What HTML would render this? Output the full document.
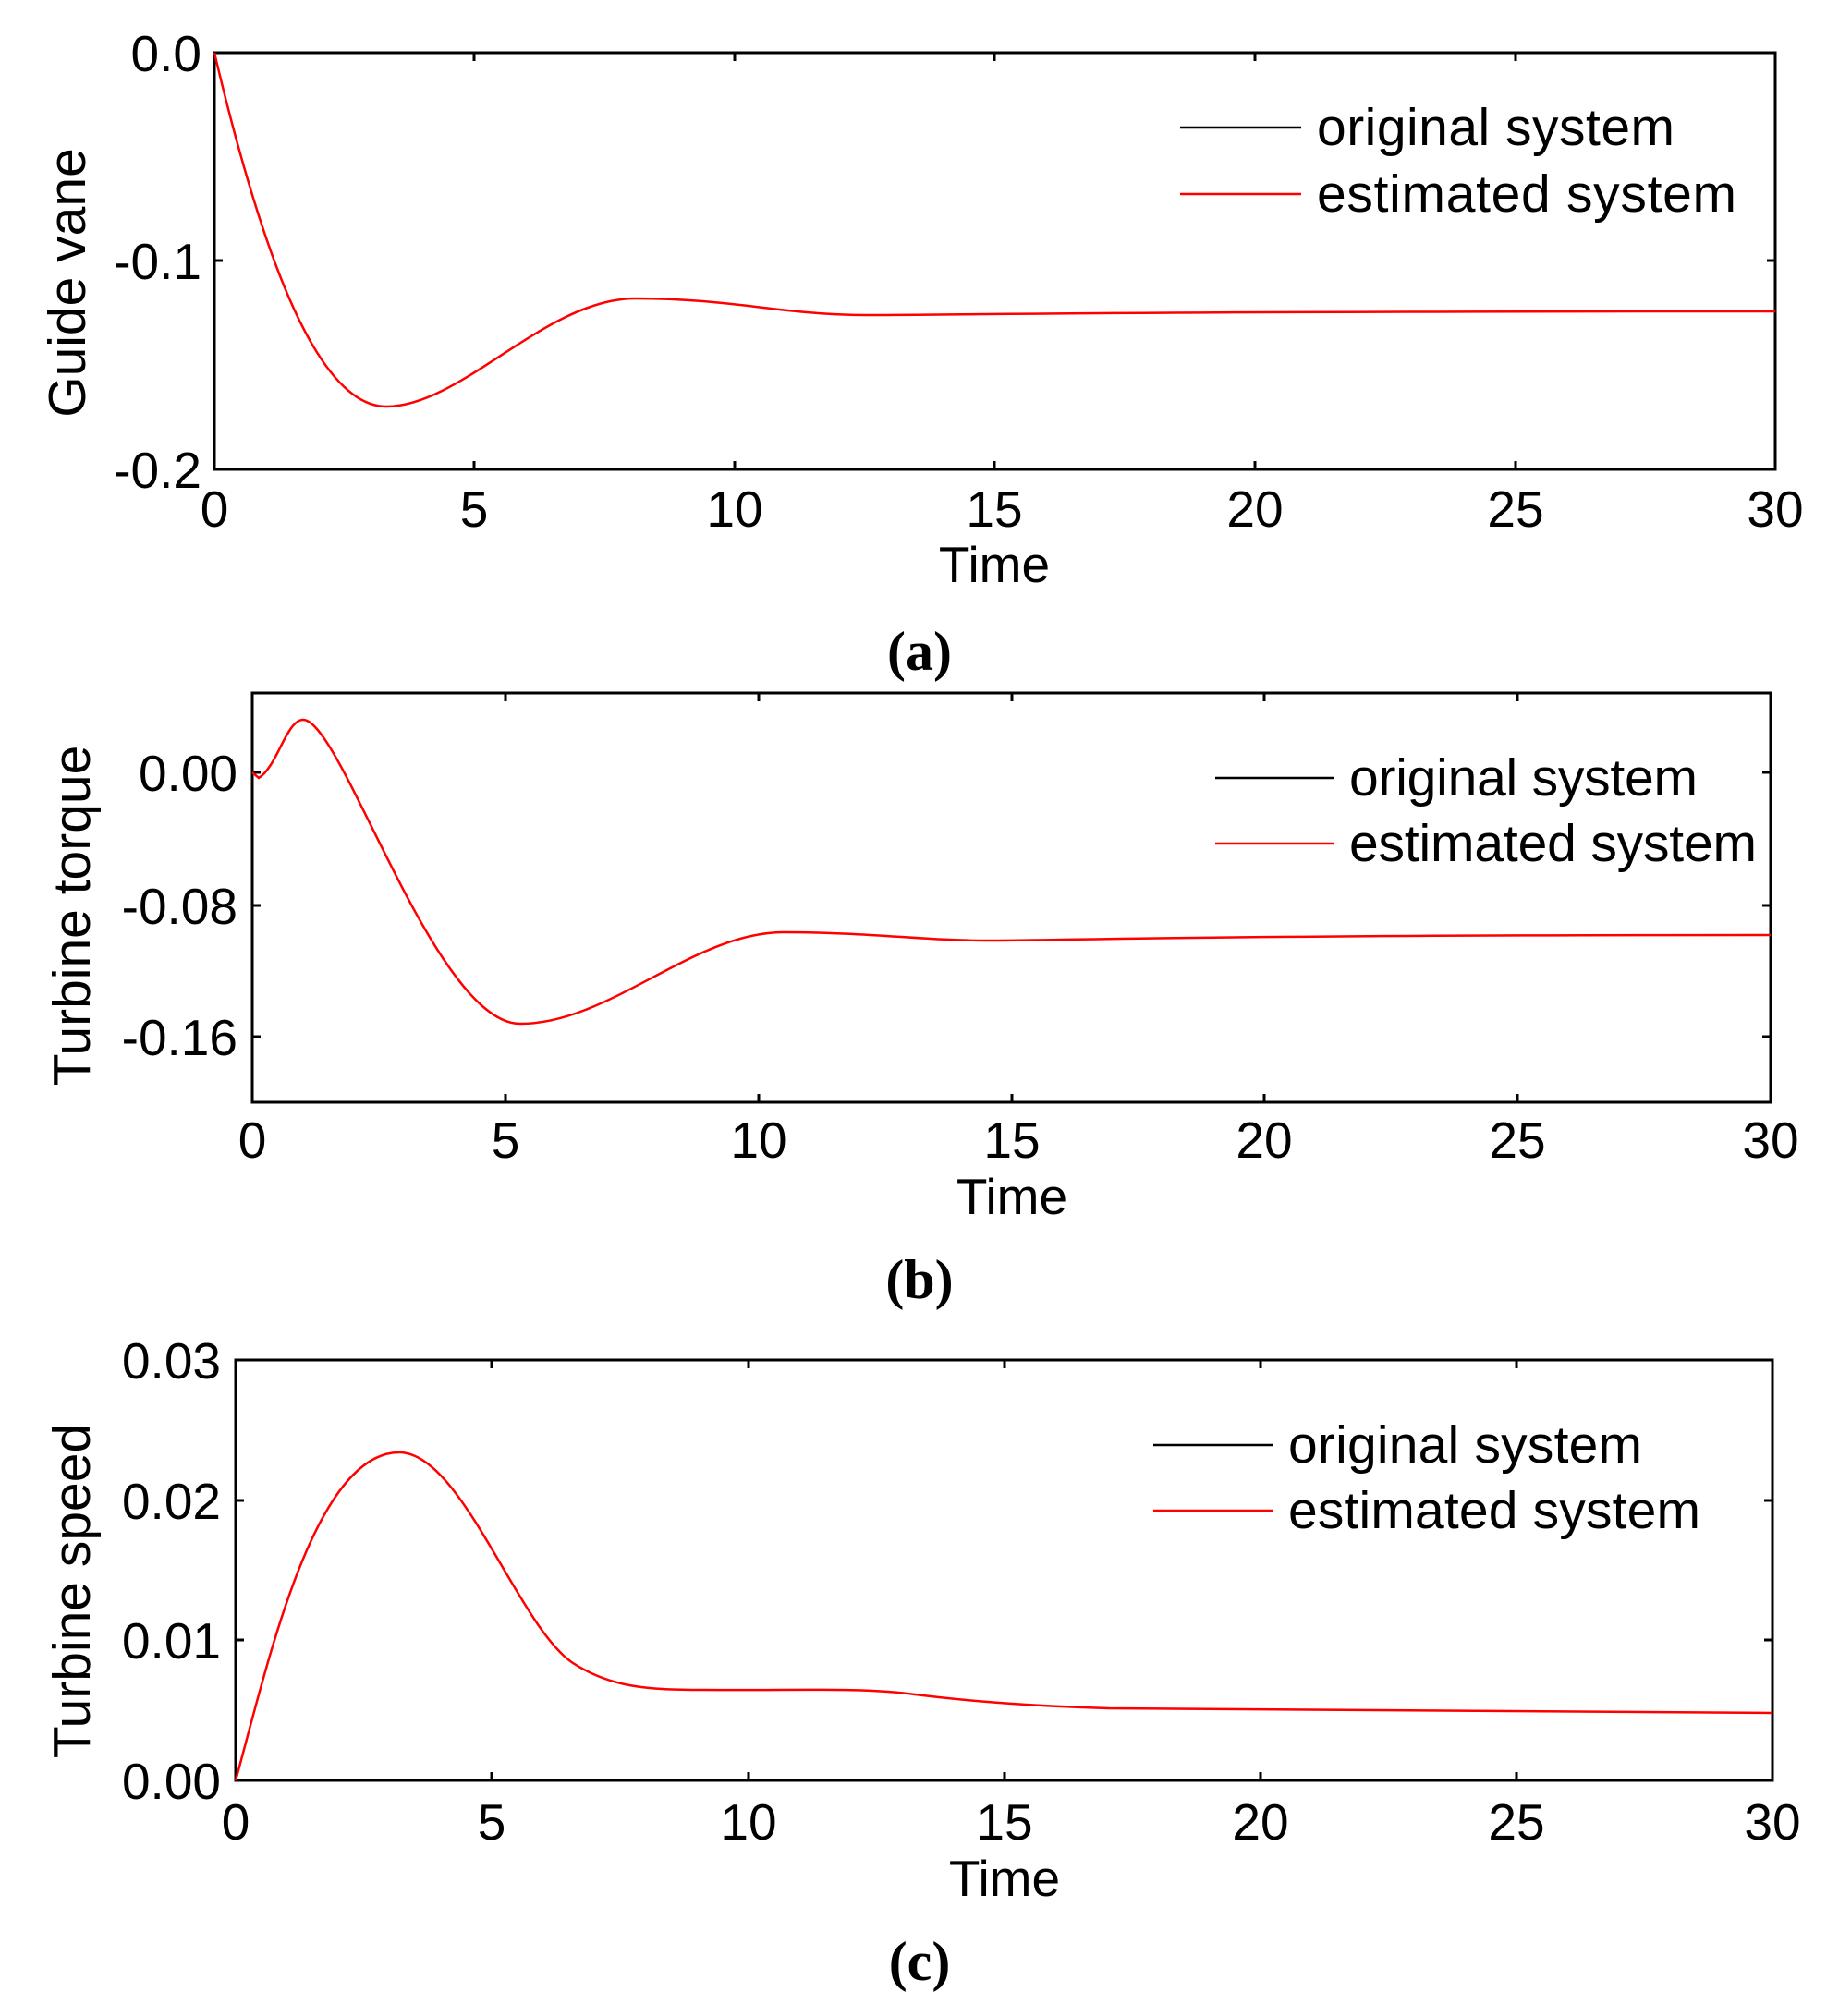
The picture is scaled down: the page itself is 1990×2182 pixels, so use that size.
<!DOCTYPE html>
<html><head><meta charset="utf-8"><style>
html,body{margin:0;padding:0;background:#fff}
svg{display:block}
text{font-family:"Liberation Sans",Arial,sans-serif;fill:#000}
.t{font-size:55px;text-anchor:middle}
.yl{font-size:55px;text-anchor:end}
.lg{font-size:57px}
.cap{font-family:"Liberation Serif",serif;font-weight:bold;font-size:60px;text-anchor:middle}
</style></head><body>
<svg width="1990" height="2182" viewBox="0 0 1990 2182" xmlns="http://www.w3.org/2000/svg">
<g fill="none" stroke="#000" stroke-width="3">
<rect x="232" y="57" width="1689" height="451"/>
<path d="M513,57v9M795,57v9M1076,57v9M1358,57v9M1640,57v9M513,508v-9M795,508v-9M1076,508v-9M1358,508v-9M1640,508v-9M232,282h9M1921,282h-9"/>
<rect x="273" y="750" width="1643" height="443"/>
<path d="M547,750v9M821,750v9M1095,750v9M1368,750v9M1642,750v9M547,1193v-9M821,1193v-9M1095,1193v-9M1368,1193v-9M1642,1193v-9M273,836h9M273,980h9M273,1122h9M1916,836h-9M1916,980h-9M1916,1122h-9"/>
<rect x="255" y="1472" width="1663" height="455"/>
<path d="M532,1472v9M810,1472v9M1087,1472v9M1364,1472v9M1641,1472v9M532,1927v-9M810,1927v-9M1087,1927v-9M1364,1927v-9M1641,1927v-9M255,1624h9M255,1775h9M1918,1624h-9M1918,1775h-9"/>
<path d="M1277,138h131M1315,842h129M1248,1564h130" stroke-width="2.5"/>
</g>
<g fill="none" stroke="#f00" stroke-width="2.5">
<path d="M1277,210h131M1315,913h129M1248,1635h130"/>
<path d="M232,57 C280,260 340,440 418,440 C500,440 590,323 688,323 C790,323 850,341 936,341 C1050,341 1150,337 1921,337"/>
<path d="M273,836 L280,842 C300,830 310,779 328,779 C370,779 470,1108 563,1108 C660,1108 750,1009 848,1009 C940,1009 1000,1018 1067,1018 C1150,1018 1300,1012 1916,1012"/>
<path d="M255,1927 C290,1800 340,1572 432,1572 C500,1572 560,1760 620,1800 C660,1826 700,1829 760,1829 C860,1830 930,1826 990,1834 C1040,1840 1100,1846 1200,1849 L1918,1854"/>
</g>
<text class="yl" x="218" y="77">0.0</text>
<text class="yl" x="218" y="302">-0.1</text>
<text class="yl" x="218" y="528">-0.2</text>
<text class="t" x="232" y="570">0</text><text class="t" x="513" y="570">5</text><text class="t" x="795" y="570">10</text><text class="t" x="1076" y="570">15</text><text class="t" x="1358" y="570">20</text><text class="t" x="1640" y="570">25</text><text class="t" x="1921" y="570">30</text>
<text class="t" x="1076" y="630">Time</text>
<text class="lg" transform="translate(92,306) rotate(-90)" text-anchor="middle">Guide vane</text>
<text class="lg" x="1425" y="157" textLength="387">original system</text>
<text class="lg" x="1425" y="229" textLength="454">estimated system</text>
<text class="cap" x="995" y="725">(a)</text>
<text class="yl" x="257" y="856">0.00</text>
<text class="yl" x="257" y="1000">-0.08</text>
<text class="yl" x="257" y="1142">-0.16</text>
<text class="t" x="273" y="1253">0</text><text class="t" x="547" y="1253">5</text><text class="t" x="821" y="1253">10</text><text class="t" x="1095" y="1253">15</text><text class="t" x="1368" y="1253">20</text><text class="t" x="1642" y="1253">25</text><text class="t" x="1916" y="1253">30</text>
<text class="t" x="1095" y="1314">Time</text>
<text class="lg" transform="translate(97,991) rotate(-90)" text-anchor="middle">Turbine torque</text>
<text class="lg" x="1460" y="861" textLength="377">original system</text>
<text class="lg" x="1460" y="932" textLength="441">estimated system</text>
<text class="cap" x="995" y="1405">(b)</text>
<text class="yl" x="239" y="1492">0.03</text>
<text class="yl" x="239" y="1644">0.02</text>
<text class="yl" x="239" y="1795">0.01</text>
<text class="yl" x="239" y="1947">0.00</text>
<text class="t" x="255" y="1991">0</text><text class="t" x="532" y="1991">5</text><text class="t" x="810" y="1991">10</text><text class="t" x="1087" y="1991">15</text><text class="t" x="1364" y="1991">20</text><text class="t" x="1641" y="1991">25</text><text class="t" x="1918" y="1991">30</text>
<text class="t" x="1087" y="2052">Time</text>
<text class="lg" transform="translate(97,1722) rotate(-90)" text-anchor="middle">Turbine speed</text>
<text class="lg" x="1394" y="1583" textLength="383">original system</text>
<text class="lg" x="1394" y="1654" textLength="446">estimated system</text>
<text class="cap" x="995" y="2143">(c)</text>
</svg>
</body></html>
